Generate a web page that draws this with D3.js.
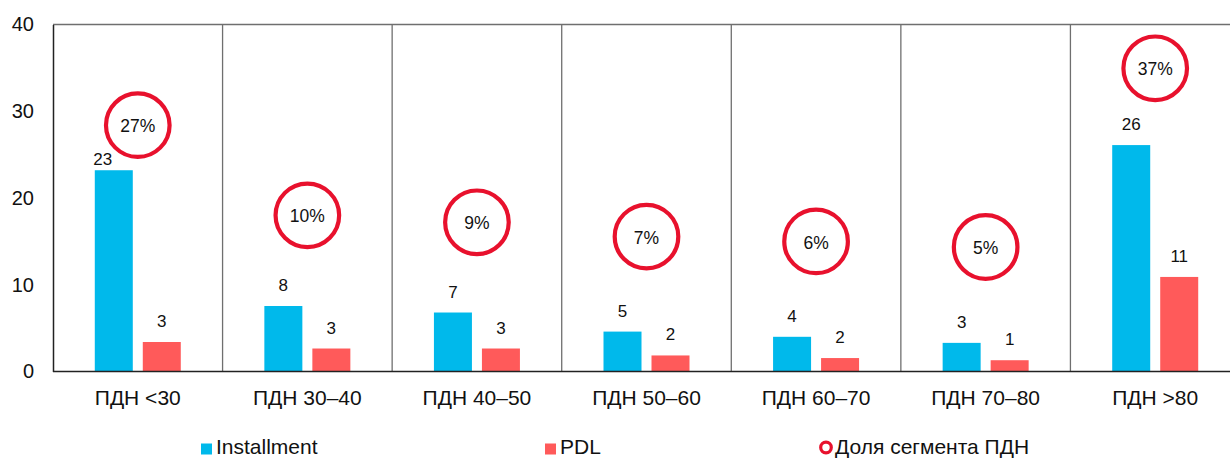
<!DOCTYPE html>
<html>
<head>
<meta charset="utf-8">
<script src="https://cdn.jsdelivr.net/npm/d3@7"></script>
<style>
  body { margin: 0; background: #fff; }
  svg { display: block; font-family: Arial, "Liberation Sans", sans-serif; }
</style>
</head>
<body>
<div id="chart"></div>
<script>
// chart data
var categories = ["ПДН <30", "ПДН 30–40", "ПДН 40–50", "ПДН 50–60", "ПДН 60–70", "ПДН 70–80", "ПДН >80"];
var installment = [23.2, 7.55, 6.8, 4.6, 4.0, 3.3, 26.1];
var pdl = [3.4, 2.65, 2.65, 1.85, 1.55, 1.3, 10.9];
var installmentLabels = ["23", "8", "7", "5", "4", "3", "26"];
var pdlLabels = ["3", "3", "3", "2", "2", "1", "11"];
var shareLabels = ["27%", "10%", "9%", "7%", "6%", "5%", "37%"];
var sharePos = [28.4, 18.0, 17.2, 15.55, 15.0, 14.35, 34.95];   // where the circle sits on the y scale
var yTicks = [0, 10, 20, 30, 40];
var seriesNames = ["Installment", "PDL"];

var colors = { Installment: "#00B9EB", PDL: "#FF5A5A", circle: "#E8112D" };

var width = 1230, height = 458;
var margin = { top: 24.5, left: 53, bottom: 86.5 };
var plotRight = 1240;   // last column runs past the edge of the picture

var svg = d3.select("#chart").append("svg")
    .attr("width", width)
    .attr("height", height);

var x = d3.scaleBand()
    .domain(categories)
    .range([margin.left, plotRight]);

var y = d3.scaleLinear()
    .domain([0, 40])
    .range([height - margin.bottom, margin.top]);

var bw = x.bandwidth();
var xInner = d3.scaleBand()
    .domain(seriesNames)
    .range([bw / 2 - 43, bw / 2 + 43])
    .paddingInner(0.2083);

// top border
svg.append("line")
    .attr("x1", margin.left).attr("x2", width)
    .attr("y1", y(40)).attr("y2", y(40))
    .attr("stroke", "#6f6f6f").attr("stroke-width", 1.3);

// column dividers
svg.selectAll(".divider")
    .data(categories.slice(1))
    .enter().append("line")
    .attr("class", "divider")
    .attr("x1", function(d) { return x(d); })
    .attr("x2", function(d) { return x(d); })
    .attr("y1", y(40)).attr("y2", y(0))
    .attr("stroke", "#6f6f6f").attr("stroke-width", 1.3);

// y axis
var yAxis = d3.axisLeft(y).tickValues(yTicks).tickSize(0).tickPadding(19);
var yg = svg.append("g")
    .attr("transform", "translate(" + margin.left + ",0)")
    .call(yAxis);
yg.select(".domain").attr("stroke", "#222").attr("stroke-width", 1.5);
yg.selectAll("text")
    .attr("font-size", "20px")
    .attr("fill", "#111")
    .attr("font-family", "Arial, 'Liberation Sans', sans-serif");

// bars
var groups = svg.selectAll(".cat")
    .data(categories)
    .enter().append("g")
    .attr("class", "cat")
    .attr("transform", function(d) { return "translate(" + x(d) + ",0)"; });

groups.append("rect")
    .attr("x", xInner("Installment"))
    .attr("width", xInner.bandwidth())
    .attr("y", function(d, i) { return y(installment[i]); })
    .attr("height", function(d, i) { return y(0) - y(installment[i]); })
    .attr("fill", colors.Installment);

groups.append("rect")
    .attr("x", xInner("PDL"))
    .attr("width", xInner.bandwidth())
    .attr("y", function(d, i) { return y(pdl[i]); })
    .attr("height", function(d, i) { return y(0) - y(pdl[i]); })
    .attr("fill", colors.PDL);

// value labels (the first one is nudged so it clears the circle)
groups.append("text")
    .attr("x", function(d, i) { return xInner("Installment") + xInner.bandwidth() / 2 - (i == 0 ? 11 : 0); })
    .attr("y", function(d, i) { return y(installment[i]) - (i == 0 ? 5 : 15); })
    .attr("text-anchor", "middle")
    .attr("font-size", "17px")
    .attr("fill", "#111")
    .text(function(d, i) { return installmentLabels[i]; });

groups.append("text")
    .attr("x", xInner("PDL") + xInner.bandwidth() / 2)
    .attr("y", function(d, i) { return y(pdl[i]) - 15; })
    .attr("text-anchor", "middle")
    .attr("font-size", "17px")
    .attr("fill", "#111")
    .text(function(d, i) { return pdlLabels[i]; });

// share circles
groups.append("circle")
    .attr("cx", bw / 2)
    .attr("cy", function(d, i) { return y(sharePos[i]); })
    .attr("r", 31.8)
    .attr("fill", "none")
    .attr("stroke", colors.circle)
    .attr("stroke-width", 4.2);

groups.append("text")
    .attr("x", bw / 2)
    .attr("y", function(d, i) { return y(sharePos[i]) + 1; })
    .attr("dy", "0.35em")
    .attr("text-anchor", "middle")
    .attr("font-size", "17.5px")
    .attr("fill", "#111")
    .text(function(d, i) { return shareLabels[i]; });

// baseline
svg.append("line")
    .attr("x1", margin.left).attr("x2", width)
    .attr("y1", y(0)).attr("y2", y(0))
    .attr("stroke", "#222").attr("stroke-width", 1.5);

// category labels
groups.append("text")
    .attr("x", bw / 2)
    .attr("y", 404.5)
    .attr("text-anchor", "middle")
    .attr("font-size", "21px")
    .attr("fill", "#111")
    .text(function(d) { return d; });

// legend
var legend = svg.append("g");

legend.append("rect")
    .attr("x", 201).attr("y", 443.5).attr("width", 11).attr("height", 11)
    .attr("fill", colors.Installment);
legend.append("text")
    .attr("x", 216).attr("y", 454)
    .attr("font-size", "21px").attr("fill", "#111")
    .text("Installment");

legend.append("rect")
    .attr("x", 545).attr("y", 443.5).attr("width", 11).attr("height", 11)
    .attr("fill", colors.PDL);
legend.append("text")
    .attr("x", 560).attr("y", 454)
    .attr("font-size", "21px").attr("fill", "#111")
    .text("PDL");

legend.append("circle")
    .attr("cx", 826).attr("cy", 447.5).attr("r", 5.3)
    .attr("fill", "none")
    .attr("stroke", colors.circle)
    .attr("stroke-width", 3.2);
legend.append("text")
    .attr("x", 835).attr("y", 454)
    .attr("font-size", "21px").attr("fill", "#111")
    .text("Доля сегмента ПДН");
</script>
</body>
</html>
